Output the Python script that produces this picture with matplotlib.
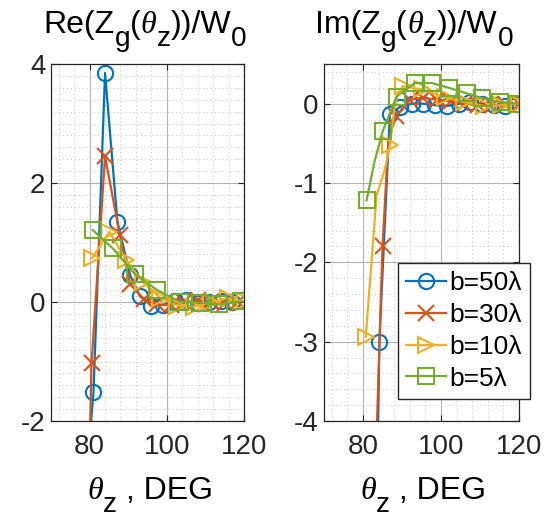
import matplotlib
matplotlib.use("Agg")
import matplotlib.pyplot as plt
from matplotlib.ticker import MultipleLocator

plt.rcParams['font.family'] = 'Liberation Sans'
plt.rcParams['axes.unicode_minus'] = False

# Re(Zg)/W0
th_re_50 = [80, 81, 84, 87.2, 90.5, 93, 96, 99, 102, 105, 108, 111, 114, 117]
re_50 = [-2.3, -1.52, 3.85, 1.35, 0.45, 0.1, -0.06, -0.05, 0.02, 0.03, -0.02, 0.0, 0.02, 0.0]
th_re_30 = [80, 80.5, 84, 87.8, 90.5, 94, 97.5, 101, 104.5, 108, 111.5, 115, 118.5]
re_30 = [-2.5, -1.03, 2.45, 1.13, 0.3, 0.05, -0.04, -0.05, 0.0, 0.03, 0.0, -0.02, 0.0]
th_re_10 = [80.7, 85.1, 89.5, 93.9, 98.3, 102.7, 107.1, 111.5, 115.9, 120.2]
re_10 = [0.74, 1.18, 0.7, 0.33, 0.07, -0.06, -0.08, 0.0, 0.06, 0.01]
th_re_5 = [80.8, 86.0, 91.7, 97.5, 103.5, 108.5, 113.5, 119.3]
re_5 = [1.21, 0.9, 0.47, 0.2, 0.0, -0.01, -0.04, 0.01]

# Im(Zg)/W0
th_im_50 = [81, 84.2, 86.9, 89.5, 92.5, 95.5, 98.5, 101.5, 104.5, 107.5, 110.5, 113.5, 116.5, 119.5]
im_50 = [-13, -3.0, -0.13, -0.04, 0.0, 0.0, -0.02, -0.03, 0.0, 0.02, 0.0, -0.02, -0.03, 0.0]
th_im_30 = [81.5, 85.0, 86.5, 88.5, 92, 95.5, 99, 102.5, 106, 109.5, 113, 116.5, 120]
im_30 = [-7.3, -1.8, -0.46, -0.15, 0.05, 0.07, 0.05, 0.03, 0.0, -0.02, -0.02, 0.0, 0.0]
th_im_10 = [80.7, 83.5, 85.6, 86.9, 88.0, 89.0, 90.2, 95, 101, 106, 111, 115.5, 120]
im_10 = [-2.94, -1.15, -0.83, -0.52, -0.08, 0.13, 0.22, 0.18, 0.08, 0.02, -0.03, -0.02, 0.0]
th_im_5 = [80.9, 83.0, 85.1, 88.6, 93.3, 97.6, 102, 106.6, 110.5, 115, 119.5]
im_5 = [-1.22, -0.72, -0.34, 0.09, 0.26, 0.26, 0.2, 0.13, 0.07, 0.02, 0.0]

# which points carry a marker
marks_re_50 = list(range(1, 14))
marks_re_30 = list(range(1, 13))
marks_im_30 = [1] + list(range(3, 13))
marks_im_10 = [0, 3, 6, 7, 8, 9, 10, 11, 12]
marks_im_5 = [0] + list(range(2, 11))

labels = ['b=50λ', 'b=30λ', 'b=10λ', 'b=5λ']
colors = ['#0072BD', '#D95319', '#EDB120', '#77AC30']
markers = ['o', 'x', '>', 's']

W, H = 544, 519
fig = plt.figure(figsize=(W / 100, H / 100), dpi=100)
ax1 = fig.add_axes([51 / W, 1 - 421 / H, 193 / W, 357 / H])
ax2 = fig.add_axes([324 / W, 1 - 421 / H, 195 / W, 357 / H])

re_series = [(th_re_50, re_50, marks_re_50), (th_re_30, re_30, marks_re_30),
             (th_re_10, re_10, None), (th_re_5, re_5, None)]
im_series = [(th_im_50, im_50, None), (th_im_30, im_30, marks_im_30),
             (th_im_10, im_10, marks_im_10), (th_im_5, im_5, marks_im_5)]

for ax, series in [(ax1, re_series), (ax2, im_series)]:
    for (th, val, mk), c, m, lab in zip(series, colors, markers, labels):
        ax.plot(th, val, color=c, marker=m, markevery=mk, markersize=11,
                markerfacecolor='none', markeredgewidth=1.5, linewidth=1.6, label=lab)

ax1.set_ylim(-2, 4)
ax1.yaxis.set_major_locator(MultipleLocator(2))
ax2.set_ylim(-4, 0.5)
ax2.yaxis.set_major_locator(MultipleLocator(1))

for ax in (ax1, ax2):
    ax.set_xlim(70, 120)
    ax.xaxis.set_major_locator(MultipleLocator(20))
    ax.xaxis.set_minor_locator(MultipleLocator(4))
    ax.yaxis.set_minor_locator(MultipleLocator(0.2))
    ax.grid(which='major', color='#b4b4b4', linewidth=0.8)
    ax.grid(which='minor', color='#c4c4c4', linewidth=0.7, linestyle=(0, (1, 3)))
    ax.set_axisbelow(True)
    for s in ax.spines.values():
        s.set_color('#262626')
        s.set_linewidth(0.9)
    ax.tick_params(which='major', direction='in', length=4, width=0.8, top=True, right=True,
                   labelsize=20, colors='#262626')
    ax.tick_params(axis='x', pad=9)
    ax.tick_params(axis='y', pad=4)
    ax.tick_params(which='minor', length=0)

ax2.legend(loc='upper left', bbox_to_anchor=(398 / W, 1 - 263 / H), bbox_transform=fig.transFigure,
           borderaxespad=0, fontsize=19, handlelength=1.5, handletextpad=0.15, borderpad=0.3,
           labelspacing=0.3, fancybox=False, edgecolor='#262626', framealpha=1)


def rich_text(cx, base_y, parts, size):
    # MATLAB-style tex text: pieces placed one after another, subscripts lowered
    renderer = fig.canvas.get_renderer()
    placed = []
    x = 0.0
    for s, sub, fam, sty in parts:
        fs = size * 0.88 if sub else size
        t = fig.text(0, 0, s, fontsize=fs, family=fam, style=sty, color='black', va='baseline')
        w = t.get_window_extent(renderer).width
        placed.append((t, x, -size * 0.55 if sub else 0.0))
        x += w
    for t, x0, dy in placed:
        t.set_position(((cx - x / 2 + x0) / W, 1 - (base_y - dy) / H))


sans, serif = 'Liberation Sans', 'Liberation Serif'
for cx, name in [(145, 'Re'), (414, 'Im')]:
    rich_text(cx, 33, [(name + '(Z', False, sans, 'normal'), ('g', True, sans, 'normal'),
                       ('(', False, sans, 'normal'), ('θ', False, serif, 'italic'),
                       ('z', True, sans, 'normal'), ('))/W', False, sans, 'normal'),
                       ('0', True, sans, 'normal')], 23)
for cx in (150, 423):
    rich_text(cx, 499, [('θ', False, serif, 'italic'), ('z', True, sans, 'normal'),
                        (' , DEG', False, sans, 'normal')], 23)

fig.savefig('out.png', dpi=100)
